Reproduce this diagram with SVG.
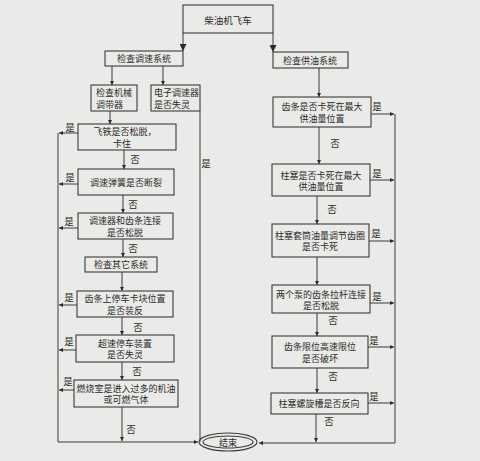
<svg xmlns="http://www.w3.org/2000/svg" width="480" height="461" viewBox="0 0 480 461">
<style>
.bg{fill:#eaeae8}
.box{fill:none;stroke:#3a3a3a;stroke-width:1.1}
.c{fill:none;stroke:#3a3a3a;stroke-width:1}
text{font-family:"Noto Sans CJK SC","Noto Sans",sans-serif;font-size:9px;fill:#2a2a2a}
.m{text-anchor:middle;dominant-baseline:central}
.s{dominant-baseline:central}
.l{font-size:9.5px;dominant-baseline:central;text-anchor:middle}
</style>
<defs>
<marker id="a" viewBox="0 0 6 6" refX="6" refY="3" markerWidth="5" markerHeight="4" markerUnits="userSpaceOnUse" orient="auto"><path d="M0,0L6,3L0,6z" fill="#2a2a2a"/></marker>
<marker id="b" viewBox="0 0 6 6" refX="6" refY="3" markerWidth="7" markerHeight="7" markerUnits="userSpaceOnUse" orient="auto"><path d="M0,0L6,3L0,6z" fill="#2a2a2a"/></marker>
</defs>
<rect class="bg" x="0" y="0" width="480" height="461"/>
<g id="connectors">
<path class="c" d="M183,33V51" marker-end="url(#b)"/>
<path class="c" d="M273,33V52" marker-end="url(#b)"/>
<path class="c" d="M112,66V85" marker-end="url(#a)"/>
<path class="c" d="M163,66V85" marker-end="url(#a)"/>
<path class="c" d="M110,111V124" marker-end="url(#a)"/>
<path class="c" d="M58,133V442H198" marker-end="url(#a)"/>
<path class="c" d="M78,133H59" marker-end="url(#a)"/>
<path class="c" d="M124,150V169" marker-end="url(#a)"/>
<path class="c" d="M78,184H59" marker-end="url(#a)"/>
<path class="c" d="M123,195V213" marker-end="url(#a)"/>
<path class="c" d="M78,228H59" marker-end="url(#a)"/>
<path class="c" d="M123,239V257" marker-end="url(#a)"/>
<path class="c" d="M122,272V291" marker-end="url(#a)"/>
<path class="c" d="M77,305H59" marker-end="url(#a)"/>
<path class="c" d="M122,317V335" marker-end="url(#a)"/>
<path class="c" d="M76,350H59" marker-end="url(#a)"/>
<path class="c" d="M122,362V380" marker-end="url(#a)"/>
<path class="c" d="M74,390H59" marker-end="url(#a)"/>
<path class="c" d="M122,407V441" marker-end="url(#a)"/>
<path class="c" d="M200,111V442"/>
<path class="c" d="M319,68V97" marker-end="url(#a)"/>
<path class="c" d="M395,114V443H259" marker-end="url(#a)"/>
<path class="c" d="M371,114H394" marker-end="url(#a)"/>
<path class="c" d="M319,127V164" marker-end="url(#a)"/>
<path class="c" d="M370,180H394" marker-end="url(#a)"/>
<path class="c" d="M317,196V224" marker-end="url(#a)"/>
<path class="c" d="M369,241H394" marker-end="url(#a)"/>
<path class="c" d="M317,257V285" marker-end="url(#a)"/>
<path class="c" d="M370,303H394" marker-end="url(#a)"/>
<path class="c" d="M317,313V336" marker-end="url(#a)"/>
<path class="c" d="M368,347H394" marker-end="url(#a)"/>
<path class="c" d="M317,368V393" marker-end="url(#a)"/>
<path class="c" d="M368,403H394" marker-end="url(#a)"/>
<path class="c" d="M316,414V442" marker-end="url(#a)"/>
</g>
<g id="labels">
<text class="l" x="70" y="127">是</text>
<text class="l" x="70" y="177">是</text>
<text class="l" x="69" y="221">是</text>
<text class="l" x="69" y="297">是</text>
<text class="l" x="69" y="341">是</text>
<text class="l" x="68" y="381">是</text>
<text class="l" x="135" y="159">否</text>
<text class="l" x="133" y="204">否</text>
<text class="l" x="133" y="248">否</text>
<text class="l" x="138" y="327">否</text>
<text class="l" x="137" y="371">否</text>
<text class="l" x="131" y="429">否</text>
<text class="l" x="206" y="163">是</text>
<text class="l" x="377" y="106">是</text>
<text class="l" x="377" y="173">是</text>
<text class="l" x="376" y="233">是</text>
<text class="l" x="377" y="296">是</text>
<text class="l" x="374" y="340">是</text>
<text class="l" x="374" y="396">是</text>
<text class="l" x="335" y="143">否</text>
<text class="l" x="332" y="209">否</text>
<text class="l" x="333" y="320">否</text>
<text class="l" x="333" y="376">否</text>
<text class="l" x="329" y="421">否</text>
</g>
<g id="start"><rect class="box" x="183" y="5" width="90" height="28"/><text class="m" x="228" y="20" style="font-size:9.5px">柴油机飞车</text></g>
<g id="speed"><rect class="box" x="105" y="51" width="78" height="15"/><text class="m" x="144" y="58.5">检查调速系统</text></g>
<g id="fuel"><rect class="box" x="273" y="52" width="75" height="16"/><text class="m" x="310" y="60">检查供油系统</text></g>
<g id="mech"><rect class="box" x="91" y="85" width="46" height="26"/><text class="s" x="96" y="92.5">检查机械</text><text class="s" x="96" y="104">调带器</text></g>
<g id="elec"><rect class="box" x="151" y="85" width="49" height="26"/><text class="s" x="154" y="92.5">电子调速器</text><text class="s" x="154" y="104">是否失灵</text></g>
<g id="L1"><rect class="box" x="78" y="124" width="98" height="26"/><text class="m" x="125" y="131">飞铁是否松脱，</text><text class="m" x="122" y="143">卡住</text></g>
<g id="L2"><rect class="box" x="78" y="169" width="96" height="26"/><text class="m" x="126" y="182">调速弹簧是否断裂</text></g>
<g id="L3"><rect class="box" x="78" y="213" width="95" height="26"/><text class="m" x="125" y="220.5">调速器和齿条连接</text><text class="m" x="125" y="232">是否松脱</text></g>
<g id="L4"><rect class="box" x="85" y="257" width="72" height="15"/><text class="m" x="121" y="264.5">检查其它系统</text></g>
<g id="L5"><rect class="box" x="77" y="291" width="96" height="26"/><text class="m" x="125" y="298.5">齿条上停车卡块位置</text><text class="m" x="125" y="310">是否装反</text></g>
<g id="L6"><rect class="box" x="76" y="335" width="98" height="27"/><text class="m" x="125" y="343">超速停车装置</text><text class="m" x="125" y="354.5">是否失灵</text></g>
<g id="L7"><rect class="box" x="74" y="380" width="104" height="27"/><text class="m" x="126" y="388">燃烧室是进入过多的机油</text><text class="m" x="126" y="399.5">或可燃气体</text></g>
<g id="R1"><rect class="box" x="273" y="97" width="98" height="30"/><text class="m" x="322" y="106.5">齿条是否卡死在最大</text><text class="m" x="322" y="118">供油量位置</text></g>
<g id="R2"><rect class="box" x="272" y="164" width="98" height="32"/><text class="m" x="321" y="175">柱塞是否卡死在最大</text><text class="m" x="321" y="186.5">供油量位置</text></g>
<g id="R3"><rect class="box" x="272" y="224" width="97" height="33"/><text class="m" x="320" y="235">柱塞套筒油量调节齿圈</text><text class="m" x="320" y="246.5">是否卡死</text></g>
<g id="R4"><rect class="box" x="272" y="285" width="98" height="28"/><text class="m" x="321" y="294">两个泵的齿条拉杆连接</text><text class="m" x="321" y="305.5">是否松脱</text></g>
<g id="R5"><rect class="box" x="272" y="336" width="96" height="32"/><text class="m" x="320" y="346.5">齿条限位高速限位</text><text class="m" x="320" y="358">是否破坏</text></g>
<g id="R6"><rect class="box" x="271" y="393" width="97" height="21"/><text class="m" x="319" y="403">柱塞螺旋槽是否反向</text></g>
<g id="end"><ellipse class="box" cx="228" cy="442" rx="29" ry="9"/><ellipse class="box" cx="228" cy="442" rx="25" ry="6"/><text class="m" x="228" y="442">结束</text></g>
</svg>
